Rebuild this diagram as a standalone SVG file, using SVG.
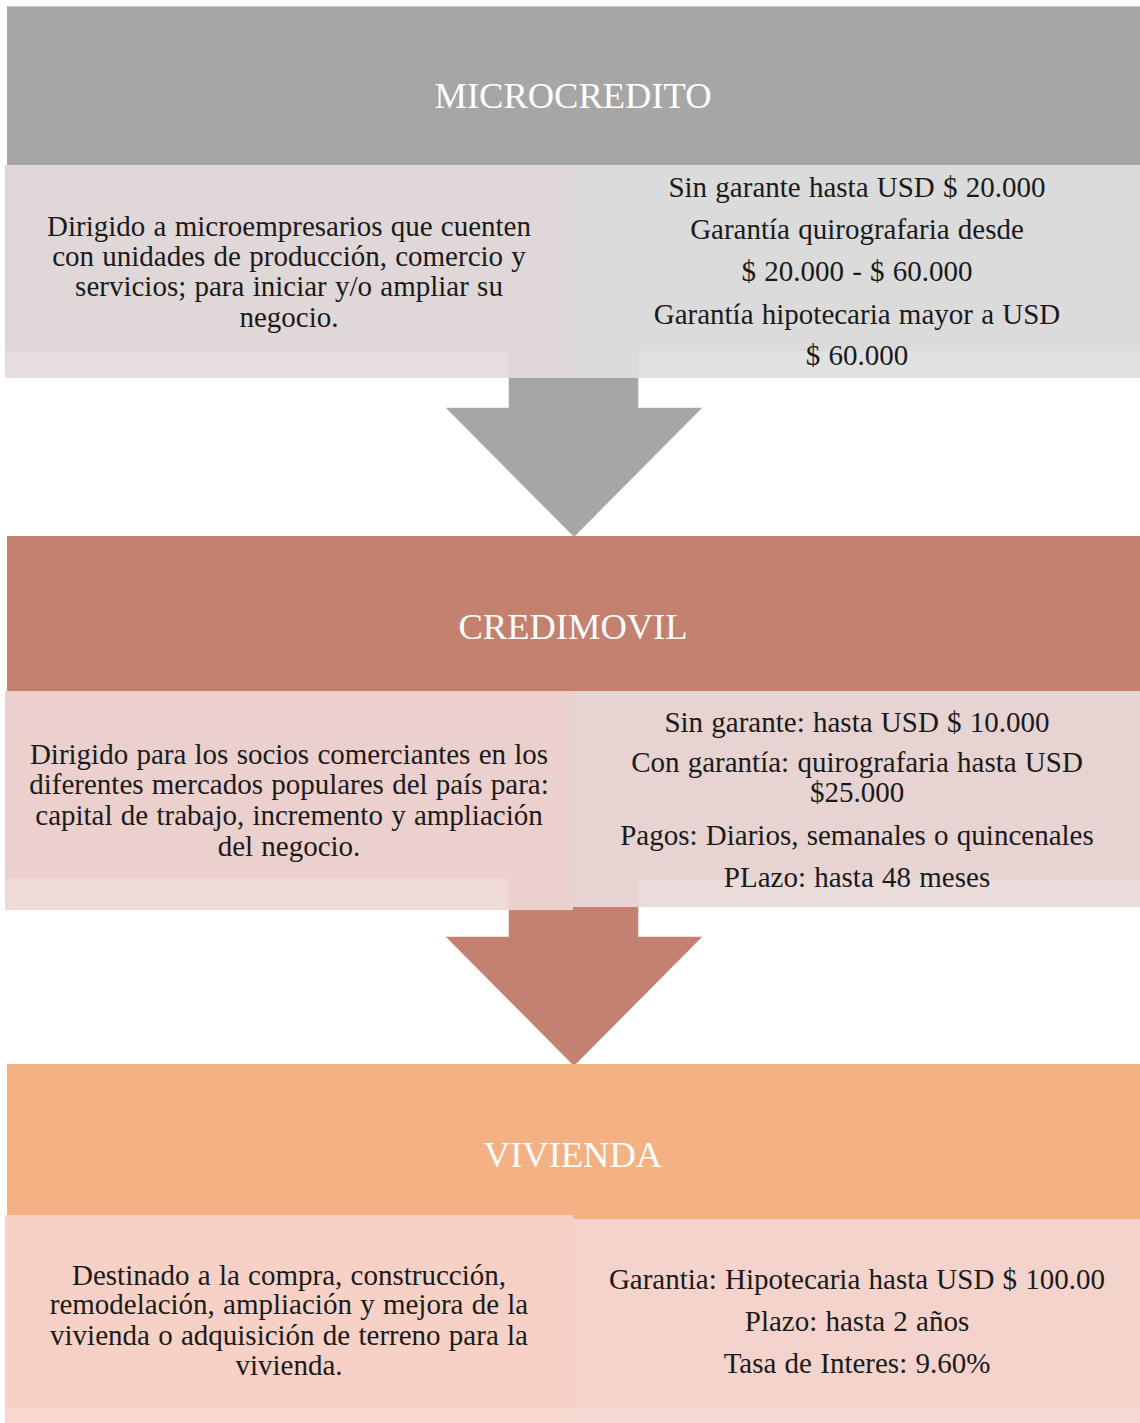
<svg xmlns="http://www.w3.org/2000/svg" width="1140" height="1423" viewBox="0 0 1140 1423">
<style>
.hd{font-family:"Liberation Serif","Times New Roman",serif;font-size:36.5px;fill:#FFFFFF;text-anchor:middle}
.tx{font-family:"Liberation Serif","Times New Roman",serif;font-size:29px;fill:#1A1A1A;text-anchor:middle;word-spacing:1px}
.arr{stroke:#FFFFFF;stroke-width:1.5;stroke-linejoin:miter}
</style>
<rect width="1140" height="1423" fill="#FFFFFF"/>
<g id="connectors">
<path class="arr" d="M508,370 L639,370 L639,407 L704,407 L574,538 L444,407 L508,407 Z" fill="#A6A6A6"/>
<path class="arr" d="M508,900 L639,900 L639,936 L704,936 L574,1067 L444,936 L508,936 Z" fill="#C48070"/>
</g>
<g id="microcredito-header">
<rect x="7" y="6" width="1133" height="159" fill="#A6A6A6"/>
<line x1="7" y1="6.5" x2="1140" y2="6.5" stroke="#C8C8C8" stroke-width="1"/>
<text class="hd" x="573" y="108">MICROCREDITO</text>
</g>
<g id="microcredito-left">
<rect x="5" y="165" width="568" height="213" fill="#E0D7D8"/>
<rect x="5" y="351" width="503" height="27" fill="#E5DDDE"/>
<text class="tx"><tspan x="289" y="236">Dirigido a microempresarios que cuenten</tspan><tspan x="289" y="266">con unidades de producción, comercio y</tspan><tspan x="289" y="296">servicios; para iniciar y/o ampliar su</tspan><tspan x="289" y="327">negocio.</tspan></text>
</g>
<g id="microcredito-right">
<rect x="573" y="165" width="567" height="213" fill="#DBDBDB"/>
<rect x="639" y="351" width="501" height="27" fill="#E1E1E1"/>
<text class="tx"><tspan x="857" y="197">Sin garante hasta USD  $ 20.000</tspan><tspan x="857" y="239">Garantía  quirografaria desde</tspan><tspan x="857" y="281">$ 20.000  - $ 60.000</tspan><tspan x="857" y="324">Garantía  hipotecaria mayor a USD</tspan><tspan x="857" y="365">$ 60.000</tspan></text>
</g>
<g id="credimovil-header">
<rect x="7" y="536" width="1133" height="155" fill="#C48170"/>
<text class="hd" x="573" y="639">CREDIMOVIL</text>
</g>
<g id="credimovil-left">
<rect x="5" y="691" width="568" height="219" fill="#EBD0CD"/>
<rect x="5" y="879" width="503" height="31" fill="#EEDAD8"/>
<text class="tx"><tspan x="289" y="764">Dirigido para los socios comerciantes en los</tspan><tspan x="289" y="794">diferentes mercados populares del país para:</tspan><tspan x="289" y="825">capital  de trabajo, incremento y ampliación</tspan><tspan x="289" y="856">del negocio.</tspan></text>
</g>
<g id="credimovil-right">
<rect x="573" y="691" width="567" height="216" fill="#E6D3D2"/>
<rect x="639" y="880" width="501" height="27" fill="#EADCDB"/>
<text class="tx"><tspan x="857" y="732">Sin garante:  hasta USD  $ 10.000</tspan><tspan x="857" y="772">Con garantía:  quirografaria hasta USD</tspan><tspan x="857" y="802">$25.000</tspan><tspan x="857" y="845">Pagos: Diarios, semanales o quincenales</tspan><tspan x="857" y="887">PLazo:  hasta 48  meses</tspan></text>
</g>
<g id="vivienda-header">
<rect x="7" y="1064" width="1133" height="155" fill="#F4B183"/>
<text class="hd" x="573" y="1167">VIVIENDA</text>
</g>
<g id="vivienda-left">
<rect x="5" y="1215" width="568" height="208" fill="#F8D1C6"/>
<rect x="5" y="1409" width="568" height="14" fill="#F8D9D2"/>
<text class="tx"><tspan x="289" y="1285">Destinado a la compra, construcción,</tspan><tspan x="289" y="1314">remodelación, ampliación y mejora de la</tspan><tspan x="289" y="1345">vivienda o adquisición de terreno para la</tspan><tspan x="289" y="1375">vivienda.</tspan></text>
</g>
<g id="vivienda-right">
<rect x="573" y="1219" width="567" height="204" fill="#F3D3CB"/>
<rect x="573" y="1408" width="567" height="15" fill="#F4DAD5"/>
<text class="tx"><tspan x="857" y="1289">Garantia:  Hipotecaria  hasta USD  $ 100.00</tspan><tspan x="857" y="1331">Plazo:  hasta 2 años</tspan><tspan x="857" y="1373">Tasa de Interes: 9.60%</tspan></text>
</g>
</svg>
